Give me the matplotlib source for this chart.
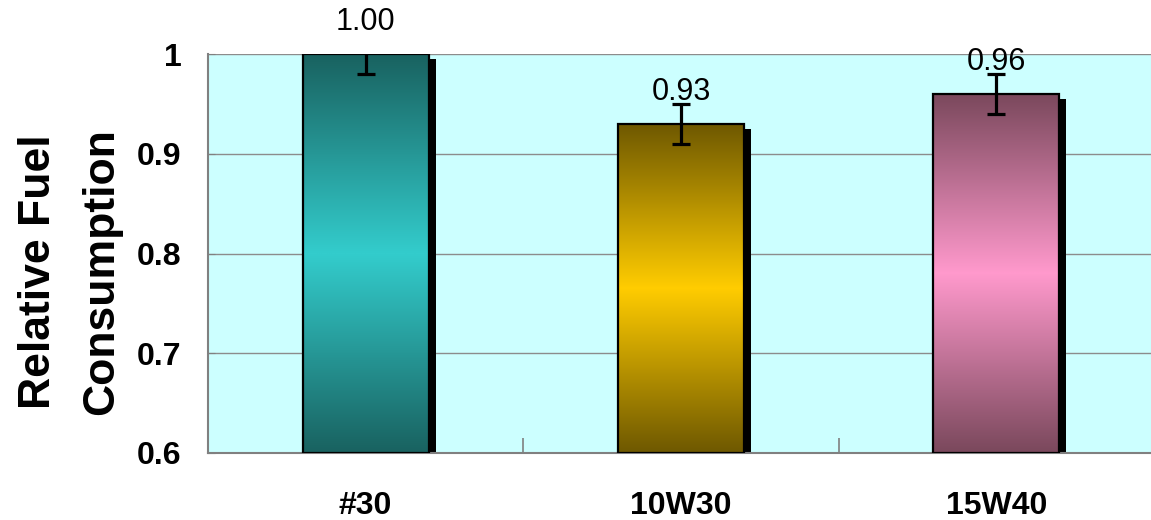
import numpy as np
import matplotlib
matplotlib.use("Agg")
import matplotlib.pyplot as plt
from matplotlib.colors import LinearSegmentedColormap
from matplotlib.patches import Rectangle
from matplotlib.transforms import ScaledTranslation

plt.rcParams['font.family'] = ['Liberation Sans', 'DejaVu Sans']

# Data
categories = ["#30", "10W30", "15W40"]
values = [1.00, 0.93, 0.96]
errors = [0.02, 0.02, 0.02]
value_labels = ["1.00", "0.93", "0.96"]
dark_colors = ["#196260", "#6e5800", "#7a485c"]
light_colors = ["#33cccc", "#ffcc00", "#ff99cc"]

y_min, y_max = 0.6, 1.0
bar_width = 0.4

fig = plt.figure(figsize=(11.51, 5.2), dpi=100)
ax = fig.add_axes([208 / 1151, 67 / 520, (1154 - 208) / 1151, (453 - 54) / 520])
ax.set_facecolor("#ccffff")
ax.set_xlim(-0.5, len(categories) - 0.5)
ax.set_ylim(y_min, y_max)

# Horizontal gridlines
ax.set_yticks([0.6, 0.7, 0.8, 0.9, 1.0])
ax.set_yticklabels(["0.6", "0.7", "0.8", "0.9", "1"])
ax.yaxis.grid(True, color="#8c8c8c", linewidth=1.0)
ax.set_axisbelow(True)

shadow_shift = ax.transData + ScaledTranslation(7 / 100, -5 / 100, fig.dpi_scale_trans)

x = np.arange(len(categories))
grad = np.abs(np.linspace(-1, 1, 256))[:, None]
for xi, v, dc, lc in zip(x, values, dark_colors, light_colors):
    left = xi - bar_width / 2
    # drop shadow
    sh = Rectangle((left, y_min - 0.05), bar_width, v - y_min + 0.05,
                   facecolor="black", edgecolor="none", transform=shadow_shift, zorder=2)
    ax.add_patch(sh)
    sh.set_clip_path(ax.patch)
    # gradient fill
    cmap = LinearSegmentedColormap.from_list("g", [lc, dc])
    rect = Rectangle((left, y_min), bar_width, v - y_min, facecolor="none",
                     edgecolor="black", linewidth=1.6, zorder=4)
    ax.add_patch(rect)
    im = ax.imshow(grad, cmap=cmap, aspect="auto", extent=[left, left + bar_width, y_min, v],
                   zorder=3, interpolation="bilinear")
    im.set_clip_path(rect)

ax.errorbar(x, values, yerr=errors, fmt="none", ecolor="black", elinewidth=2.3,
            capsize=6.5, capthick=2.3, zorder=5)

for xi, v, e, lab in zip(x, values, errors, value_labels):
    ax.annotate(lab, (xi, v + e), xytext=(0, 3), textcoords="offset points",
                ha="center", va="baseline", fontsize=22, annotation_clip=False)

ax.set_xticks(x)
ax.set_xticklabels(categories, fontsize=23, fontweight="bold")
ax.tick_params(axis="x", which="major", length=0, pad=27)
ax.set_xticks([0.5, 1.5], minor=True)
ax.tick_params(axis="x", which="minor", direction="in", length=11, color="#808080", width=1.2)
ax.tick_params(axis="y", direction="in", length=5, color="#808080", labelsize=23, pad=19)
for t in ax.get_yticklabels():
    t.set_fontweight("bold")

for side in ["top", "right"]:
    ax.spines[side].set_visible(False)
for side in ["left", "bottom"]:
    ax.spines[side].set_color("#808080")
    ax.spines[side].set_linewidth(1.5)

fig.text(70 / 1151, (520 - 272) / 520, "Relative Fuel\nConsumption", rotation=90,
         ha="center", va="center", fontsize=32, fontweight="bold", linespacing=1.7,
         multialignment="center")

fig.savefig("out.png", dpi=100)
